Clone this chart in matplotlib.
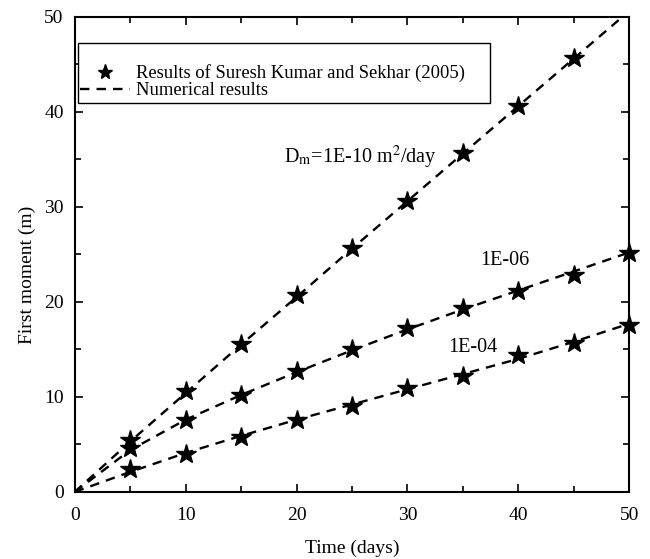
import numpy as np
import matplotlib
matplotlib.use("Agg")
import matplotlib.pyplot as plt
from matplotlib.lines import Line2D
from matplotlib.patches import Rectangle
from matplotlib.ticker import MultipleLocator

plt.rcParams['font.family'] = ['Liberation Serif', 'DejaVu Serif']
plt.rcParams['mathtext.fontset'] = 'stix'

# time axis
days = [0, 5, 10, 15, 20, 25, 30, 35, 40, 45, 50]

# numerical results (dashed lines)
num_1e10 = [0, 5.3, 10.4, 15.5, 20.5, 25.6, 30.6, 35.6, 40.6, 45.6, 50.6]
num_1e06 = [0, 4.4, 7.6, 10.2, 12.6, 14.9, 17.1, 19.2, 21.2, 23.2, 25.2]
num_1e04 = [0, 2.1, 4.1, 5.9, 7.6, 9.2, 10.8, 12.4, 14.0, 15.8, 17.7]

# Suresh Kumar and Sekhar (2005) points
pts_days = [5, 10, 15, 20, 25, 30, 35, 40, 45]
pts_1e10 = [5.5, 10.6, 15.6, 20.7, 25.7, 30.6, 35.7, 40.6, 45.7]
pts_days2 = [5, 10, 15, 20, 25, 30, 35, 40, 45, 50]
pts_1e06 = [4.6, 7.6, 10.2, 12.7, 15.0, 17.2, 19.4, 21.1, 22.8, 25.1]
pts_1e04 = [2.4, 4.0, 5.8, 7.6, 9.0, 10.9, 12.2, 14.4, 15.7, 17.6]

fig = plt.figure(figsize=(6.5, 5.59), dpi=100)
ax = fig.add_axes([0.115, 0.12, 0.853, 0.85])

dash = dict(color='black', linestyle=(0, (4, 3)), linewidth=1.7)
ax.plot(days, num_1e10, **dash)
ax.plot(days, num_1e06, **dash)
ax.plot(days, num_1e04, **dash)

star = dict(linestyle='none', marker='*', markersize=15, color='black')
ax.plot(pts_days, pts_1e10, **star, clip_on=False)
ax.plot(pts_days2, pts_1e06, **star, clip_on=False)
ax.plot(pts_days2, pts_1e04, **star, clip_on=False)

ax.set_xlim(0, 50)
ax.set_ylim(0, 50)
ax.xaxis.set_major_locator(MultipleLocator(10))
ax.xaxis.set_minor_locator(MultipleLocator(5))
ax.yaxis.set_major_locator(MultipleLocator(10))
ax.yaxis.set_minor_locator(MultipleLocator(5))
ax.tick_params(which='both', direction='in', top=True, right=True, labelsize=14, width=1.2)
ax.tick_params(which='major', length=6)
ax.tick_params(which='minor', length=4)
ax.tick_params(axis='x', which='major', pad=11)
ax.tick_params(axis='y', which='major', pad=8)
for s in ax.spines.values():
    s.set_linewidth(1.5)

ax.set_xlabel('Time (days)', fontsize=14, labelpad=11)
ax.set_ylabel('First moment (m)', fontsize=14)
ax.yaxis.set_label_coords(-0.07, 0.457)

ax.text(18.9, 34.6, r'D$_{\rm m}$=1E-10 m$^{2}$/day', fontsize=14.5)
ax.text(36.6, 23.9, '1E-06', fontsize=14.5)
ax.text(33.7, 14.7, '1E-04', fontsize=14.5)

# legend without its own frame; the box is drawn separately to match the original
handles = [Line2D([], [], linestyle='none', marker='*', markersize=11, color='black'),
           Line2D([], [], **dash)]
leg = ax.legend(handles, ['Results of Suresh Kumar and Sekhar (2005)', 'Numerical results'],
                loc='upper left', bbox_to_anchor=(0.009, 0.9), borderaxespad=0,
                fontsize=13.4, frameon=False, handlelength=2.7, handletextpad=0.3,
                borderpad=0, labelspacing=0.0)
ax.add_patch(Rectangle((0.0054, 0.819), 0.7436, 0.126, transform=ax.transAxes,
                       fill=True, facecolor='white', edgecolor='black', linewidth=1.0,
                       zorder=4))
leg.set_zorder(5)

fig.savefig('out.png', dpi=100)
